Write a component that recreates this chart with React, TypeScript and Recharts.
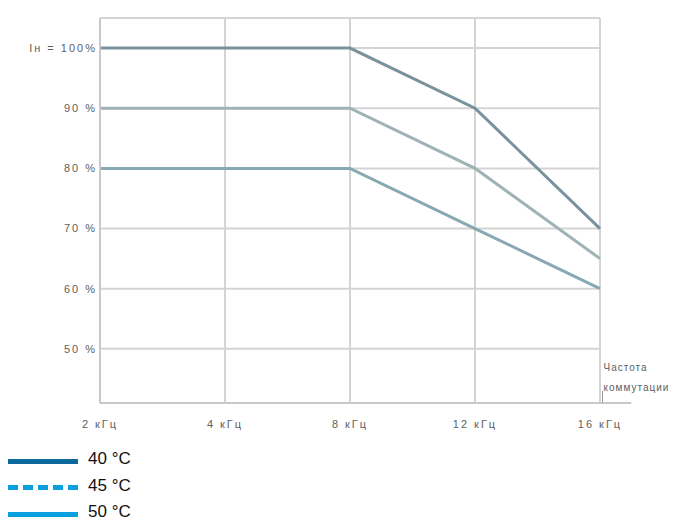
import { LineChart, Line, XAxis, YAxis, CartesianGrid, Legend, ReferenceLine } from 'recharts';

// switching frequency categories (index positions on the x axis)
const freqLabels = ['2 кГц', '4 кГц', '8 кГц', '12 кГц', '16 кГц'];
const freqIndex = [0, 1, 2, 3, 4];

// current as % of In
const curve40 = [100, 100, 100, 90, 70];
const curve45 = [90, 90, 90, 80, 65];
const curve50 = [80, 80, 80, 70, 60];

const yTicks = [50, 60, 70, 80, 90, 100];

const series = [
  { key: 't40', name: '40 °C', stroke: '#7a929e', legend: '#0b6a9b', dashed: false },
  { key: 't45', name: '45 °C', stroke: '#9fb3b6', legend: '#0aa0e0', dashed: true },
  { key: 't50', name: '50 °C', stroke: '#88a9b3', legend: '#0aa0e0', dashed: false },
];

const chartData = freqIndex.map((f, i) => ({
  f,
  t40: curve40[i],
  t45: curve45[i],
  t50: curve50[i],
}));

const font = 'Liberation Sans, Arial, sans-serif';
const tickStyle = { fontSize: 11, fill: '#606060', fontFamily: font, letterSpacing: 2 };

function LegendBox() {
  return (
    <div style={{ height: 80, fontFamily: font }}>
      {series.map((s) => (
        <div key={s.key} style={{ display: 'flex', alignItems: 'center', height: 26.5 }}>
          <div
            style={{
              width: 70,
              height: 0,
              borderTop: `5px ${s.dashed ? 'dashed' : 'solid'} ${s.legend}`,
              marginLeft: 8,
              marginRight: 10,
              marginTop: 4,
            }}
          />
          <span style={{ fontSize: 17, color: '#111' }}>{s.name}</span>
        </div>
      ))}
    </div>
  );
}

export default function App() {
  return (
    <div style={{ position: 'absolute', left: 0, top: 0, width: 699, height: 520, background: '#fff' }}>
      <LineChart
        width={699}
        height={520}
        data={chartData}
        margin={{ top: 18, right: 99, left: 0, bottom: 7 }}
      >
        <CartesianGrid stroke="#d4d4d4" strokeWidth={2} />
        <XAxis
          dataKey="f"
          type="number"
          domain={[0, 4]}
          ticks={freqIndex}
          tickFormatter={(v: number) => freqLabels[v]}
          axisLine={false}
          tickLine={false}
          tickSize={0}
          tickMargin={17}
          height={30}
          tick={tickStyle}
        />
        <YAxis
          type="number"
          domain={[41, 105]}
          ticks={yTicks}
          tickFormatter={(v: number) => (v === 100 ? 'Iн = 100%' : `${v} %`)}
          width={100}
          axisLine={{ stroke: '#c8c8c8', strokeWidth: 2 }}
          tickLine={false}
          tickSize={0}
          tickMargin={3}
          tick={tickStyle}
        />
        <ReferenceLine
          segment={[{ x: 0, y: 41 }, { x: 4.25, y: 41 }]}
          stroke="#c8c8c8"
          strokeWidth={2}
          ifOverflow="visible"
        />
        <ReferenceLine
          segment={[{ x: 4.02, y: 43 }, { x: 4.02, y: 41 }]}
          stroke="#999"
          strokeWidth={1}
          ifOverflow="visible"
          label={{
            value: 'Частота',
            position: 'insideTopLeft',
            fill: '#606060',
            fontSize: 10,
            fontFamily: font,
            letterSpacing: 1,
            dx: -4,
            dy: -32,
          }}
        />
        <ReferenceLine
          segment={[{ x: 4.02, y: 45 }, { x: 4.02, y: 44.9 }]}
          stroke="none"
          ifOverflow="visible"
          label={{
            value: 'коммутации',
            position: 'insideTopLeft',
            fill: '#606060',
            fontSize: 10,
            fontFamily: font,
            letterSpacing: 1,
            dx: -4,
            dy: 0,
          }}
        />
        {series.map((s) => (
          <Line
            key={s.key}
            type="linear"
            dataKey={s.key}
            name={s.name}
            stroke={s.stroke}
            strokeWidth={3}
            dot={false}
            activeDot={false}
            isAnimationActive={false}
          />
        ))}
        <Legend
          verticalAlign="bottom"
          align="left"
          content={() => <LegendBox />}
          wrapperStyle={{ left: 0, top: 446, bottom: 'auto', width: 200 }}
        />
      </LineChart>
    </div>
  );
}
